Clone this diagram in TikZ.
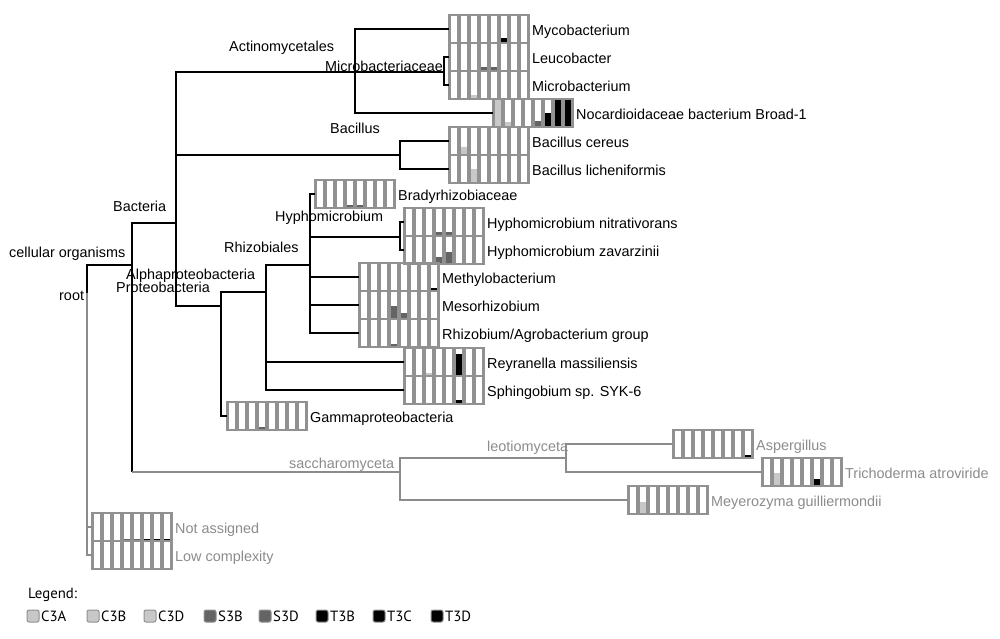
\documentclass[tikz,border=0pt]{standalone}
\usepackage{fontspec}
\setmainfont{Liberation Sans}
\newfontfamily\legendfont{PT Sans}

\definecolor{boxgray}{RGB}{145,145,145}
\definecolor{lightbar}{RGB}{200,200,200}
\definecolor{darkbar}{RGB}{100,100,100}
\definecolor{fungigray}{RGB}{140,140,140}

\newcommand{\treefont}{\fontsize{14.4}{16}\selectfont}

\tikzset{
	treeline/.style={black, line width=2pt},
	greyline/.style={fungigray, line width=2pt},
	leaflabel/.style={anchor=base west, inner sep=0pt, font=\treefont},
	innerlabel/.style={anchor=base west, inner sep=0pt, font=\treefont},
	legendbox/.style={draw=boxgray, line width=1pt, rounded corners=2pt},
	legendtext/.style={anchor=base west, inner sep=0pt, font=\legendfont\fontsize{14.8}{16}\selectfont}
}

% heat box: name, left x, top y, bars (cell/height/colour)
\newcommand{\heatbox}[4]{%
	\foreach \c/\h/\col in {#4}
		\fill[\col] ({#2+10*\c-8.6},{#3+28}) rectangle ({#2+10*\c-1.4},{#3+28-\h});
	\foreach \c in {0,...,7}
		\draw[boxgray, line width=1.6pt] ({#2+10*\c+1.2},#3) rectangle ({#2+10*\c+8.8},{#3+28});
	\draw[boxgray, line width=1.6pt] (#2,#3) rectangle ({#2+80},{#3+28});
	\coordinate (#1) at (#2,{#3+14});
	\coordinate (#1-e) at ({#2+83},{#3+20.8});
}

\begin{document}
\begin{tikzpicture}[x=1pt, y=-1pt]
\useasboundingbox (0,0) rectangle (1000,638);
\fill[white] (0,0) rectangle (1000,638);

	%% Innere Knoten
	\coordinate (root) at (87,293);
	\coordinate (cellorg) at (132,265);
	\coordinate (bacteria) at (176,223);
	\coordinate (actino) at (355,72);
	\coordinate (microbac) at (444,72);
	\coordinate (bacillus) at (400,155);
	\coordinate (proteo) at (221,306);
	\coordinate (alpha) at (266,292);
	\coordinate (rhizobiales) at (310,265);
	\coordinate (hypho) at (400,237);
	\coordinate (saccharo) at (400,472);
	\coordinate (leotio) at (566,458);

	%% Boxen
	\heatbox{myco}{449}{15}{6/5/black}
	\heatbox{leuco}{449}{43}{4/4.5/darkbar, 5/4.5/darkbar}
	\heatbox{microb}{449}{71}{3/4/lightbar}
	\heatbox{nocard}{493}{99}{1/27/lightbar, 2/5/lightbar, 5/6/darkbar, 6/14/black, 7/27/black, 8/27/black}
	\heatbox{cereus}{449}{127}{2/8/lightbar}
	\heatbox{lichen}{449}{155}{3/14/lightbar}
	\heatbox{brady}{315}{180}{4/3/darkbar, 5/3/darkbar}
	\heatbox{nitra}{404}{208}{4/4.5/darkbar, 5/4.5/darkbar}
	\heatbox{zavar}{404}{236}{4/7/darkbar, 5/12/darkbar}
	\heatbox{methylo}{359}{263}{8/3.5/black}
	\heatbox{meso}{359}{291}{4/13/darkbar, 5/6/darkbar}
	\heatbox{rhizob}{359}{319}{4/3/darkbar}
	\heatbox{reyra}{404}{348}{3/3/lightbar, 6/22/black}
	\heatbox{sphingo}{404}{376}{6/4/black}
	\heatbox{gamma}{227}{402}{4/3/darkbar}
	\heatbox{asperg}{673}{430}{8/3/black}
	\heatbox{tricho}{762}{458}{2/13/lightbar, 6/7/black}
	\heatbox{meyero}{628}{486}{2/12/lightbar}
	\heatbox{notass}{92}{513}{4/2.5/darkbar, 5/2.5/darkbar, 6/2.5/black, 7/2.5/black, 8/2.5/black}
	\heatbox{lowcomp}{92}{541}{1/0/white}

	%%%%%%%%%%%%%%%%

	%% Kanten Bakterien
	\draw[treeline] (root) |- (cellorg);
	\draw[treeline] (cellorg) |- (bacteria);
	\draw[treeline] (bacteria) |- (actino);
	\draw[treeline] (bacteria) |- (bacillus);
	\draw[treeline] (bacteria) |- (proteo);
	\draw[treeline] (actino) |- (myco);
	\draw[treeline] (actino) |- (microbac);
	\draw[treeline] (actino) |- (nocard);
	\draw[treeline] (microbac) |- (leuco);
	\draw[treeline] (microbac) |- (microb);
	\draw[treeline] (bacillus) |- (cereus);
	\draw[treeline] (bacillus) |- (lichen);
	\draw[treeline] (proteo) |- (alpha);
	\draw[treeline] (proteo) |- (gamma);
	\draw[treeline] (alpha) |- (rhizobiales);
	\draw[treeline] (alpha) |- (reyra);
	\draw[treeline] (alpha) |- (sphingo);
	\draw[treeline] (rhizobiales) |- (brady);
	\draw[treeline] (rhizobiales) |- (hypho);
	\draw[treeline] (rhizobiales) |- (methylo);
	\draw[treeline] (rhizobiales) |- (meso);
	\draw[treeline] (rhizobiales) |- (rhizob);
	\draw[treeline] (hypho) |- (nitra);
	\draw[treeline] (hypho) |- (zavar);

	%% Kanten Pilze und Rest
	\draw[treeline] (cellorg) -- (cellorg |- saccharo);
	\draw[greyline] (cellorg |- saccharo) -- (saccharo);
	\draw[greyline] (saccharo) |- (leotio);
	\draw[greyline] (saccharo) |- (meyero);
	\draw[greyline] (leotio) |- (asperg);
	\draw[greyline] (leotio) |- (tricho);
	\draw[greyline] (root) |- (notass);
	\draw[greyline] (root) |- (lowcomp);

	%% Beschriftung innere Knoten
	\node[innerlabel] (root-t) at (59,300) {root};
	\node[innerlabel] (cellorg-t) at (9,257.5) {cellular organisms};
	\node[innerlabel] (bacteria-t) at (113,211.5) {Bacteria};
	\node[innerlabel] (actino-t) at (229,51.5) {Actinomycetales};
	\node[innerlabel] (microbac-t) at (325,71.5) {Microbacteriaceae};
	\node[innerlabel] (bacillus-t) at (330,133) {Bacillus};
	\node[innerlabel] (alpha-t) at (126,279) {Alphaproteobacteria};
	\node[innerlabel] (proteo-t) at (116,292.5) {Proteobacteria};
	\node[innerlabel] (rhizobiales-t) at (224,252.5) {Rhizobiales};
	\node[innerlabel] (hypho-t) at (275,221.5) {Hyphomicrobium};
	\node[innerlabel, fungigray] (saccharo-t) at (289,468) {saccharomyceta};
	\node[innerlabel, fungigray] (leotio-t) at (487,451) {leotiomyceta};

	%% Beschriftung Blaetter
	\node[leaflabel] at (myco-e) {Mycobacterium};
	\node[leaflabel] at (leuco-e) {Leucobacter};
	\node[leaflabel] at (microb-e) {Microbacterium};
	\node[leaflabel] at (nocard-e) {Nocardioidaceae bacterium Broad-1};
	\node[leaflabel] at (cereus-e) {Bacillus cereus};
	\node[leaflabel] at (lichen-e) {Bacillus licheniformis};
	\node[leaflabel] at (brady-e) {Bradyrhizobiaceae};
	\node[leaflabel] at (nitra-e) {Hyphomicrobium nitrativorans};
	\node[leaflabel] at (zavar-e) {Hyphomicrobium zavarzinii};
	\node[leaflabel] at (methylo-e) {Methylobacterium};
	\node[leaflabel] at (meso-e) {Mesorhizobium};
	\node[leaflabel] at (rhizob-e) {Rhizobium/Agrobacterium group};
	\node[leaflabel] at (reyra-e) {Reyranella massiliensis};
	\node[leaflabel] at (sphingo-e) {Sphingobium sp. SYK-6};
	\node[leaflabel] at (gamma-e) {Gammaproteobacteria};
	\node[leaflabel, fungigray] at (asperg-e) {Aspergillus};
	\node[leaflabel, fungigray] at (tricho-e) {Trichoderma atroviride};
	\node[leaflabel, fungigray] at (meyero-e) {Meyerozyma guilliermondii};
	\node[leaflabel, fungigray] at (notass-e) {Not assigned};
	\node[leaflabel, fungigray] at (lowcomp-e) {Low complexity};

	%% Legende
	\node[legendtext] (legend) at (28,598) {Legend:};
	\foreach \lx/\lname/\lcol in {27/C3A/lightbar, 87/C3B/lightbar, 144/C3D/lightbar, 204/S3B/darkbar, 259/S3D/darkbar, 316/T3B/black, 373/T3C/black, 431/T3D/black}{
		\draw[legendbox, fill=\lcol] (\lx,610) rectangle ++(12,12);
		\node[legendtext] at (\lx+14,621) {\lname};
	}
\end{tikzpicture}
\end{document}
